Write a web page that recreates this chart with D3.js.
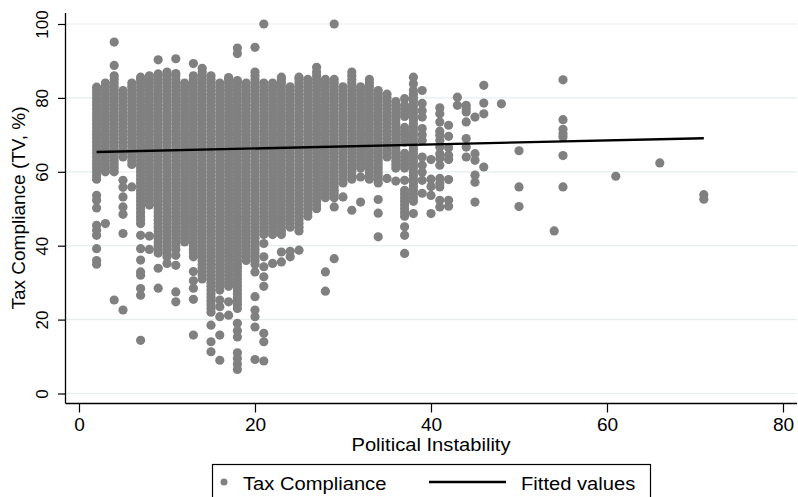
<!DOCTYPE html>
<html>
<head>
<meta charset="utf-8">
<script src="https://cdn.jsdelivr.net/npm/d3@7"></script>
<style>
  html, body { margin: 0; padding: 0; background: #fff; }
  svg { display: block; font-family: "Liberation Sans", Arial, sans-serif; }
</style>
</head>
<body>
<svg id="chart" width="798" height="497"></svg>
<script>
// Political instability index (x) and the tax compliance observations recorded at each level (y)
const politicalInstability = [2, 3, 4, 5, 6, 7, 8, 9, 10, 11, 12, 13, 14, 15, 16, 17, 18, 19, 20, 21,
  22, 23, 24, 25, 26, 27, 28, 29, 30, 31, 32, 33, 34, 35, 36, 37, 38, 39, 40, 41, 42, 43, 44, 45, 46,
  48, 50, 54, 55, 61, 66, 71];

const taxCompliance = [
  /* 2 */ [35, 36, 39.2, 42.8, 44.2, 45.5, 50.2, 52.3, 53.6, 58, 59, 60, 61, 62, 63, 64, 65, 66, 67, 68, 69, 70, 71, 72, 73, 74, 75, 76, 77, 78, 79, 80, 81, 82, 82.9],
  /* 3 */ [46, 60, 61, 62, 63, 64, 65, 66, 67, 68, 69, 70, 71, 72, 73, 74, 75, 76, 77, 78, 79, 80, 81, 82, 83, 84],
  /* 4 */ [25.3, 60, 61, 62, 63, 64, 65, 66, 67, 68, 69, 70, 71, 72, 73, 74, 75, 76, 77, 78, 79, 80, 81, 82, 83, 84, 85, 86, 88.8, 95.1],
  /* 5 */ [22.6, 43.3, 48.5, 50.5, 53.2, 55.8, 57.7, 64, 65, 66, 67, 68, 69, 70, 71, 72, 73, 74, 75, 76, 77, 78, 79, 80, 81, 82],
  /* 6 */ [55.9, 62, 63, 64, 65, 66, 67, 68, 69, 70, 71, 72, 73, 74, 75, 76, 77, 78, 79, 80, 81, 82, 83, 84],
  /* 7 */ [14.4, 26.6, 28.4, 32, 32.9, 36.1, 39.2, 42.8, 46, 47, 48, 49, 50, 51, 52, 53, 54, 55, 56, 57, 58, 59, 60, 61, 62, 63, 64, 65, 66, 67, 68, 69, 70, 71, 72, 73, 74, 75, 76, 77, 78, 79, 80, 81, 82, 83, 84, 85, 85.6],
  /* 8 */ [39, 42.6, 51, 52, 53, 54, 55, 56, 57, 58, 59, 60, 61, 62, 63, 64, 65, 66, 67, 68, 69, 70, 71, 72, 73, 74, 75, 76, 77, 78, 79, 80, 81, 82, 83, 84, 85, 86],
  /* 9 */ [28.5, 33.9, 38, 39, 40, 41, 42, 43, 44, 45, 46, 47, 48, 49, 50, 51, 52, 53, 54, 55, 56, 57, 58, 59, 60, 61, 62, 63, 64, 65, 66, 67, 68, 69, 70, 71, 72, 73, 74, 75, 76, 77, 78, 79, 80, 81, 82, 83, 84, 85, 86, 86.5, 90.3],
  /* 10 */ [35.2, 37, 38, 39, 40, 41, 42, 43, 44, 45, 46, 47, 48, 49, 50, 51, 52, 53, 54, 55, 56, 57, 58, 59, 60, 61, 62, 63, 64, 65, 66, 67, 68, 69, 70, 71, 72, 73, 74, 75, 76, 77, 78, 79, 80, 81, 82, 83, 84, 85, 86, 87],
  /* 11 */ [24.8, 27.5, 34.7, 37.4, 39, 40, 41, 42, 43, 44, 45, 46, 47, 48, 49, 50, 51, 52, 53, 54, 55, 56, 57, 58, 59, 60, 61, 62, 63, 64, 65, 66, 67, 68, 69, 70, 71, 72, 73, 74, 75, 76, 77, 78, 79, 80, 81, 82, 83, 84, 85, 86, 86.6, 90.6],
  /* 12 */ [41, 42, 43, 44, 45, 46, 47, 48, 49, 50, 51, 52, 53, 54, 55, 56, 57, 58, 59, 60, 61, 62, 63, 64, 65, 66, 67, 68, 69, 70, 71, 72, 73, 74, 75, 76, 77, 78, 79, 80, 81, 82, 83, 84],
  /* 13 */ [15.8, 25.5, 28.5, 30.5, 33, 37, 38, 39, 40, 41, 42, 43, 44, 45, 46, 47, 48, 49, 50, 51, 52, 53, 54, 55, 56, 57, 58, 59, 60, 61, 62, 63, 64, 65, 66, 67, 68, 69, 70, 71, 72, 73, 74, 75, 76, 77, 78, 79, 80, 81, 82, 83, 84, 85, 86, 89.3],
  /* 14 */ [31, 32, 33, 34, 35, 36, 37, 38, 39, 40, 41, 42, 43, 44, 45, 46, 47, 48, 49, 50, 51, 52, 53, 54, 55, 56, 57, 58, 59, 60, 61, 62, 63, 64, 65, 66, 67, 68, 69, 70, 71, 72, 73, 74, 75, 76, 77, 78, 79, 80, 81, 82, 83, 84, 85, 86, 87, 88],
  /* 15 */ [11.3, 14, 18.5, 22, 23, 24, 25, 26, 27, 28, 29, 30, 31, 32, 33, 34, 35, 36, 37, 38, 39, 40, 41, 42, 43, 44, 45, 46, 47, 48, 49, 50, 51, 52, 53, 54, 55, 56, 57, 58, 59, 60, 61, 62, 63, 64, 65, 66, 67, 68, 69, 70, 71, 72, 73, 74, 75, 76, 77, 78, 79, 80, 81, 82, 83, 84, 85, 86],
  /* 16 */ [9, 15.8, 20.8, 23.5, 25.3, 28, 29, 30, 31, 32, 33, 34, 35, 36, 37, 38, 39, 40, 41, 42, 43, 44, 45, 46, 47, 48, 49, 50, 51, 52, 53, 54, 55, 56, 57, 58, 59, 60, 61, 62, 63, 64, 65, 66, 67, 68, 69, 70, 71, 72, 73, 74, 75, 76, 77, 78, 79, 80, 81, 82, 83, 84],
  /* 17 */ [21.2, 24.8, 29, 30, 31, 32, 33, 34, 35, 36, 37, 38, 39, 40, 41, 42, 43, 44, 45, 46, 47, 48, 49, 50, 51, 52, 53, 54, 55, 56, 57, 58, 59, 60, 61, 62, 63, 64, 65, 66, 67, 68, 69, 70, 71, 72, 73, 74, 75, 76, 77, 78, 79, 80, 81, 82, 83, 84, 85, 85.5],
  /* 18 */ [6.5, 8, 9.5, 11, 15.3, 17, 19, 23, 24, 25, 26, 27, 28, 29, 30, 31, 32, 33, 34, 35, 36, 37, 38, 39, 40, 41, 42, 43, 44, 45, 46, 47, 48, 49, 50, 51, 52, 53, 54, 55, 56, 57, 58, 59, 60, 61, 62, 63, 64, 65, 66, 67, 68, 69, 70, 71, 72, 73, 74, 75, 76, 77, 78, 79, 80, 81, 82, 83, 84, 84.7, 92, 93.5],
  /* 19 */ [36, 37, 38, 39, 40, 41, 42, 43, 44, 45, 46, 47, 48, 49, 50, 51, 52, 53, 54, 55, 56, 57, 58, 59, 60, 61, 62, 63, 64, 65, 66, 67, 68, 69, 70, 71, 72, 73, 74, 75, 76, 77, 78, 79, 80, 81, 82, 83, 84],
  /* 20 */ [9.2, 18, 20.8, 22.6, 26.2, 32.9, 35, 36, 37, 38, 39, 40, 41, 42, 43, 44, 45, 46, 47, 48, 49, 50, 51, 52, 53, 54, 55, 56, 57, 58, 59, 60, 61, 62, 63, 64, 65, 66, 67, 68, 69, 70, 71, 72, 73, 74, 75, 76, 77, 78, 79, 80, 81, 82, 83, 84, 85, 86, 87, 93.7],
  /* 21 */ [8.8, 14, 16.3, 29, 31.6, 34.3, 37, 40.6, 43, 44, 45, 46, 47, 48, 49, 50, 51, 52, 53, 54, 55, 56, 57, 58, 59, 60, 61, 62, 63, 64, 65, 66, 67, 68, 69, 70, 71, 72, 73, 74, 75, 76, 77, 78, 79, 80, 81, 82, 83, 84, 100],
  /* 22 */ [35.2, 43, 44, 45, 46, 47, 48, 49, 50, 51, 52, 53, 54, 55, 56, 57, 58, 59, 60, 61, 62, 63, 64, 65, 66, 67, 68, 69, 70, 71, 72, 73, 74, 75, 76, 77, 78, 79, 80, 81, 82, 83, 84],
  /* 23 */ [35.6, 38.3, 43, 44, 45, 46, 47, 48, 49, 50, 51, 52, 53, 54, 55, 56, 57, 58, 59, 60, 61, 62, 63, 64, 65, 66, 67, 68, 69, 70, 71, 72, 73, 74, 75, 76, 77, 78, 79, 80, 81, 82, 83, 84, 85, 85.6],
  /* 24 */ [37, 38.5, 45, 46, 47, 48, 49, 50, 51, 52, 53, 54, 55, 56, 57, 58, 59, 60, 61, 62, 63, 64, 65, 66, 67, 68, 69, 70, 71, 72, 73, 74, 75, 76, 77, 78, 79, 80, 81, 82, 83],
  /* 25 */ [38.8, 44, 45, 46, 47, 48, 49, 50, 51, 52, 53, 54, 55, 56, 57, 58, 59, 60, 61, 62, 63, 64, 65, 66, 67, 68, 69, 70, 71, 72, 73, 74, 75, 76, 77, 78, 79, 80, 81, 82, 83, 84, 85, 85.6],
  /* 26 */ [48, 49, 50, 51, 52, 53, 54, 55, 56, 57, 58, 59, 60, 61, 62, 63, 64, 65, 66, 67, 68, 69, 70, 71, 72, 73, 74, 75, 76, 77, 78, 79, 80, 81, 82, 83, 84, 85],
  /* 27 */ [50, 51, 52, 53, 54, 55, 56, 57, 58, 59, 60, 61, 62, 63, 64, 65, 66, 67, 68, 69, 70, 71, 72, 73, 74, 75, 76, 77, 78, 79, 80, 81, 82, 83, 84, 85, 86, 87, 88.3],
  /* 28 */ [27.7, 32.9, 53, 54, 55, 56, 57, 58, 59, 60, 61, 62, 63, 64, 65, 66, 67, 68, 69, 70, 71, 72, 73, 74, 75, 76, 77, 78, 79, 80, 81, 82, 83, 84, 85],
  /* 29 */ [36.5, 50.5, 53, 54, 55, 56, 57, 58, 59, 60, 61, 62, 63, 64, 65, 66, 67, 68, 69, 70, 71, 72, 73, 74, 75, 76, 77, 78, 79, 80, 81, 82, 83, 84, 85, 100],
  /* 30 */ [53.2, 57, 58, 59, 60, 61, 62, 63, 64, 65, 66, 67, 68, 69, 70, 71, 72, 73, 74, 75, 76, 77, 78, 79, 80, 81, 82, 83],
  /* 31 */ [49.6, 58, 59, 60, 61, 62, 63, 64, 65, 66, 67, 68, 69, 70, 71, 72, 73, 74, 75, 76, 77, 78, 79, 80, 81, 82, 83, 84, 85, 86, 87],
  /* 32 */ [51.8, 58.6, 61, 62, 63, 64, 65, 66, 67, 68, 69, 70, 71, 72, 73, 74, 75, 76, 77, 78, 79, 80, 81, 82, 83],
  /* 33 */ [58, 59, 60, 61, 62, 63, 64, 65, 66, 67, 68, 69, 70, 71, 72, 73, 74, 75, 76, 77, 78, 79, 80, 81, 82, 83, 84, 85],
  /* 34 */ [42.4, 48.8, 52.5, 57, 58, 59, 60, 61, 62, 63, 64, 65, 66, 67, 68, 69, 70, 71, 72, 73, 74, 75, 76, 77, 78, 79, 80, 81, 82],
  /* 35 */ [58.2, 64, 65, 66, 67, 68, 69, 70, 71, 72, 73, 74, 75, 76, 77, 78, 79, 80, 81],
  /* 36 */ [57.5, 61, 62, 63, 64, 65, 66, 67, 68, 69, 70, 71, 72, 73, 74, 75, 76, 77, 78, 79],
  /* 37 */ [37.9, 42.8, 45.1, 48, 49, 50, 51, 52, 53, 54, 55, 57.7, 61, 62, 63, 64, 65, 68, 69, 70, 71, 72, 75, 76, 77, 78, 79.8],
  /* 38 */ [48.7, 52, 53, 54, 55, 56, 57, 58, 59, 60, 61, 62, 63, 64, 65, 66, 67, 68, 69, 70, 71, 72, 73, 74, 75, 76, 77, 78, 79, 80, 81, 82, 83.8, 85.6],
  /* 39 */ [54.2, 57.7, 59.9, 61.8, 64, 68.5, 70, 71.7, 74.8, 76.5, 78.5, 82],
  /* 40 */ [48.7, 53.6, 56, 58, 63.3],
  /* 41 */ [50.5, 52.3, 55.9, 56.8, 58.2, 61.8, 63.6, 64.9, 66.7, 68.5, 69.9, 71, 73.5, 75.7, 77.3],
  /* 42 */ [50.7, 52.3, 57.9, 63.3, 64.5, 66.5, 69.6, 72.6],
  /* 43 */ [78, 80.2],
  /* 44 */ [64, 66.7, 69, 73.5, 76.2, 77.1, 78],
  /* 45 */ [51.8, 57.2, 59.1, 63.1, 64.9, 74.8],
  /* 46 */ [61.3, 75.7, 78.6, 83.4],
  /* 48 */ [78.4],
  /* 50 */ [50.6, 55.9, 65.7],
  /* 54 */ [44],
  /* 55 */ [55.9, 64.4, 69.4, 70.3, 71.5, 74.1, 84.9],
  /* 61 */ [58.8],
  /* 66 */ [62.4],
  /* 71 */ [52.6, 53.8]
];

// Linear fit of tax compliance on political instability, at the ends of the observed range
const fittedX = [2, 71];
const fittedY = [65.35, 69.1];

const xTicks = [0, 20, 40, 60, 80];
const yTicks = [0, 20, 40, 60, 80, 100];

const legendLabels = ["Tax Compliance", "Fitted values"];

// ---- layout ----
const plot = { left: 65.5, right: 797, top: 13, bottom: 403.5 };
const pointColor = "#808080";
const gridColor = "#e6edef";
const textStretch = 1.09;

const svg = d3.select("#chart");

const x = d3.scaleLinear().domain([0, 80]).range([79, 783]);
const y = d3.scaleLinear().domain([0, 100]).range([393.5, 24]);

// horizontal gridlines
svg.append("g")
  .selectAll("line")
  .data(yTicks)
  .join("line")
  .attr("x1", plot.left).attr("x2", plot.right)
  .attr("y1", d => y(d)).attr("y2", d => y(d))
  .attr("stroke", gridColor).attr("stroke-width", 1.2);

// observations
const points = politicalInstability.flatMap((pi, i) => taxCompliance[i].map(tc => ({ pi, tc })));
svg.append("g")
  .selectAll("circle")
  .data(points)
  .join("circle")
  .attr("cx", d => x(d.pi))
  .attr("cy", d => y(d.tc))
  .attr("r", 4.6)
  .attr("fill", pointColor);

// fitted line
svg.append("path")
  .datum(fittedX.map((v, i) => [v, fittedY[i]]))
  .attr("d", d3.line().x(d => x(d[0])).y(d => y(d[1])))
  .attr("fill", "none")
  .attr("stroke", "#000")
  .attr("stroke-width", 2.4);

// x axis
const xAxis = svg.append("g")
  .attr("transform", `translate(0,${plot.bottom})`)
  .call(d3.axisBottom(x).tickValues(xTicks).tickSize(9).tickFormat(d3.format("d")));
xAxis.select(".domain").remove();
xAxis.selectAll(".tick line").attr("stroke", "#000").attr("stroke-width", 1.2);
xAxis.selectAll(".tick text")
  .attr("y", 0).attr("dy", 0)
  .attr("transform", `translate(0,27.5) scale(${textStretch},1)`)
  .attr("font-size", 17.5).attr("fill", "#000")
  .attr("font-family", "Liberation Sans, Arial, sans-serif");
svg.append("line")
  .attr("x1", plot.left).attr("x2", plot.right)
  .attr("y1", plot.bottom).attr("y2", plot.bottom)
  .attr("stroke", "#000").attr("stroke-width", 1.3);

// y axis
const yAxis = svg.append("g")
  .attr("transform", `translate(${plot.left},0)`)
  .call(d3.axisLeft(y).tickValues(yTicks).tickSize(7.5).tickFormat(d3.format("d")));
yAxis.select(".domain").remove();
yAxis.selectAll(".tick line").attr("stroke", "#000").attr("stroke-width", 1.2);
yAxis.selectAll(".tick text")
  .attr("x", 0).attr("y", 0).attr("dy", 0)
  .attr("text-anchor", "middle")
  .attr("transform", "translate(-17.5,0) rotate(-90)")
  .attr("font-size", 17).attr("fill", "#000")
  .attr("font-family", "Liberation Sans, Arial, sans-serif");
svg.append("line")
  .attr("x1", plot.left).attr("x2", plot.left)
  .attr("y1", plot.top).attr("y2", plot.bottom)
  .attr("stroke", "#000").attr("stroke-width", 1.3);

// horizontal text with the slightly wide glyph proportions of the chart
function wideText(parent, px, py, anchor, size, label) {
  return parent.append("text")
    .attr("transform", `translate(${px},${py}) scale(${textStretch},1)`)
    .attr("text-anchor", anchor)
    .attr("font-size", size)
    .text(label);
}

// axis titles
wideText(svg, 431, 451, "middle", 18.5, "Political Instability");

svg.append("text")
  .attr("transform", "translate(25,208) rotate(-90)")
  .attr("text-anchor", "middle")
  .attr("font-size", 19)
  .text("Tax Compliance (TV, %)");

// legend
const legend = svg.append("g");
legend.append("rect")
  .attr("x", 212.5).attr("y", 464.5)
  .attr("width", 438).attr("height", 45)
  .attr("fill", "#fff").attr("stroke", "#000").attr("stroke-width", 1.2);
legend.append("circle")
  .attr("cx", 224).attr("cy", 482).attr("r", 3.5)
  .attr("fill", pointColor);
wideText(legend, 243, 489.5, "start", 18.5, legendLabels[0]);
legend.append("line")
  .attr("x1", 429).attr("x2", 506)
  .attr("y1", 482).attr("y2", 482)
  .attr("stroke", "#000").attr("stroke-width", 2.4);
wideText(legend, 521, 489.5, "start", 18.5, legendLabels[1]);
</script>
</body>
</html>
